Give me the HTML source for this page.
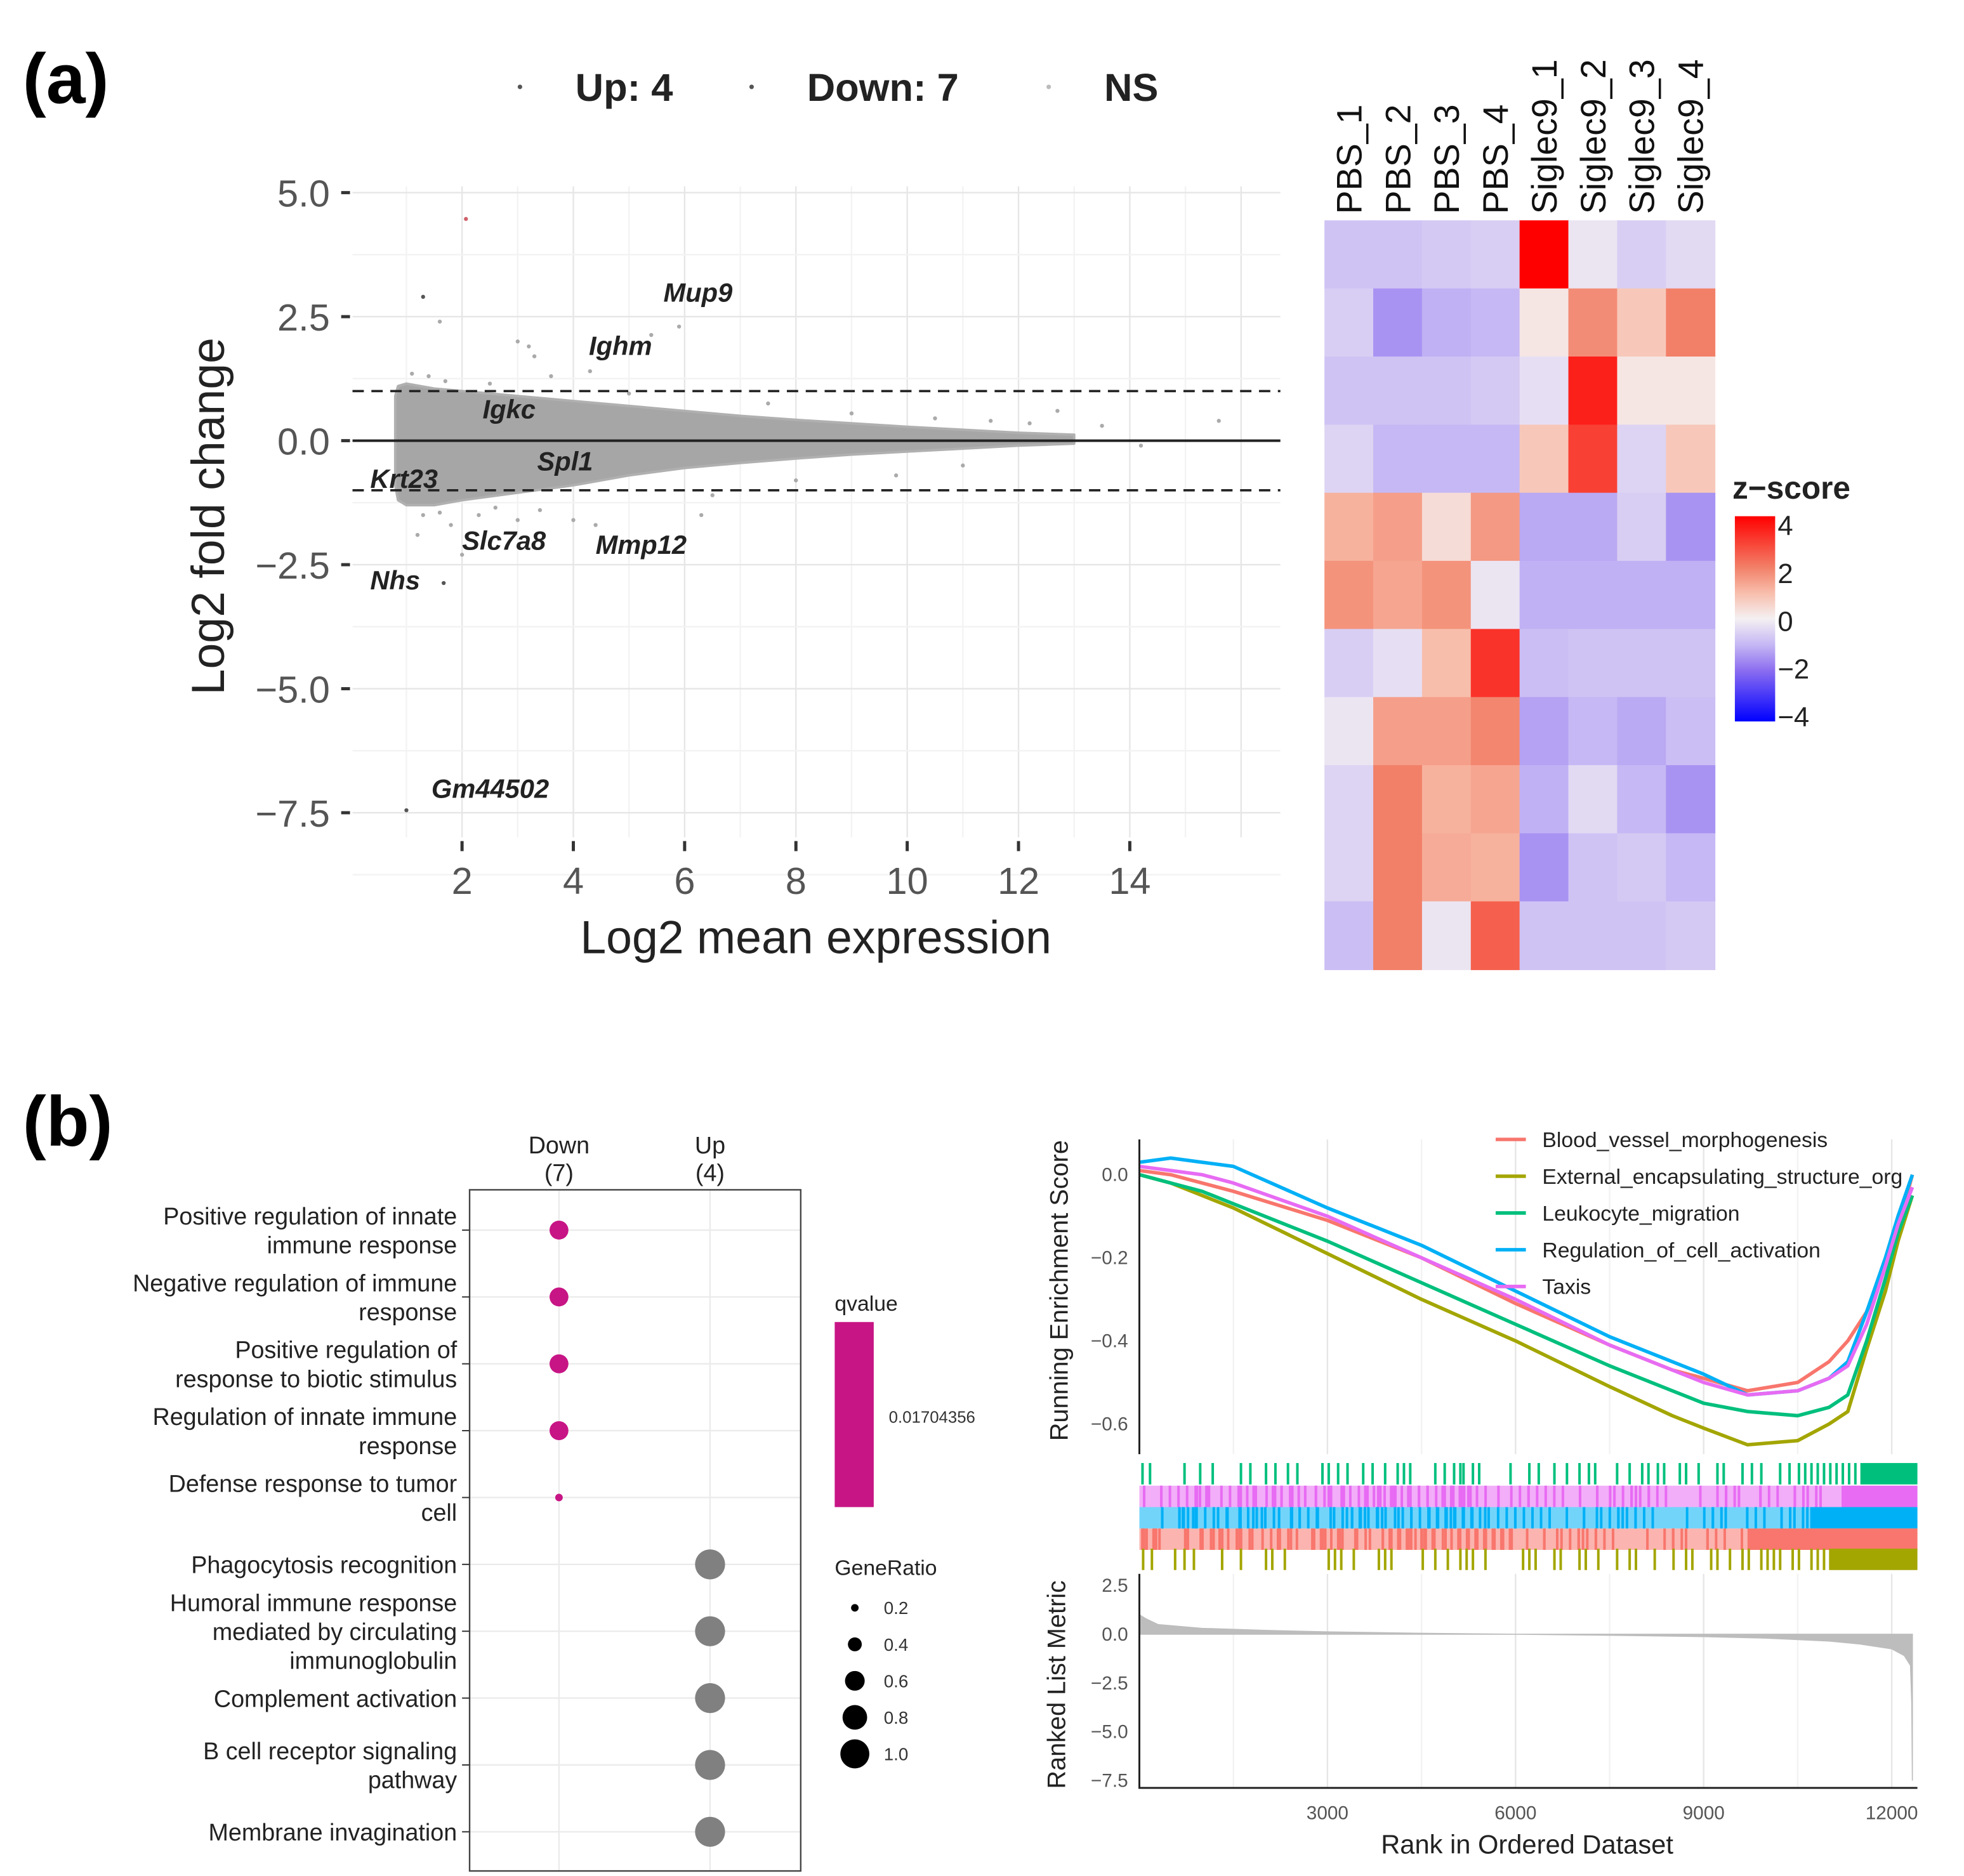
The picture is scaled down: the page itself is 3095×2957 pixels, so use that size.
<!DOCTYPE html>
<html><head><meta charset="utf-8">
<style>
html,body{margin:0;padding:0;background:#fff;}
svg{display:block;}
text{font-family:"Liberation Sans",sans-serif;}
</style></head>
<body>
<svg id="fig" width="3095" height="2957" viewBox="0 0 1560 1490" preserveAspectRatio="none" xmlns="http://www.w3.org/2000/svg">
<rect width="1560" height="1490" fill="#fff"/>
<g id="ma"></g>
<g id="hm"></g>
<g id="dot"></g>
<g id="gsea"></g>
</svg>
<script>
// ---------- MA plot data ----------
const maCloudX = [0.8, 0.85, 1.0, 1.5, 2, 3, 4, 5, 6, 7, 8, 9, 10, 11, 12, 13];
const maCloudUpper = [0.9, 1.1, 1.15, 1.05, 1.0, 0.9, 0.8, 0.7, 0.6, 0.5, 0.42, 0.35, 0.28, 0.22, 0.16, 0.12];
const maCloudLower = [-0.9, -1.2, -1.3, -1.3, -1.2, -1.05, -0.9, -0.7, -0.55, -0.45, -0.36, -0.28, -0.22, -0.16, -0.1, -0.06];
const maOutX = [1.3, 1.6, 2.07, 3.0, 3.2, 3.3, 3.6, 4.3, 5.4, 5.9, 4.0, 1.8, 2.3, 3.4, 4.4, 6.3, 9.8, 13.5, 14.2, 15.6, 1.0, 1.67, 12.7, 8.0, 2.0, 1.2, 1.1, 1.4, 1.7, 2.5, 5.0, 7.5, 9.0, 10.5, 11.5, 12.2, 1.3, 1.6, 2.6, 3.0, 6.5, 11.0];
const maOutY = [2.9, 2.4, 4.47, 2.0, 1.9, 1.7, 1.3, 1.4, 2.13, 2.3, -1.6, -1.7, -1.5, -1.4, -1.7, -1.5, -0.7, 0.3, -0.1, 0.4, -7.45, -2.87, 0.6, -0.8, -2.3, -1.9, 1.35, 1.3, 1.2, 1.15, 0.95, 0.75, 0.55, 0.45, 0.4, 0.35, -1.5, -1.45, -1.35, -1.6, -1.1, -0.5];
const maLabels = ["Mup9", "Ighm", "Igkc", "Spl1", "Krt23", "Slc7a8", "Mmp12", "Nhs", "Gm44502"];
const maLabelX = [5.62, 4.28, 2.37, 3.35, 0.35, 2.0, 4.4, 0.35, 1.45];
const maLabelY = [2.8, 1.73, 0.45, -0.6, -0.95, -2.2, -2.28, -3.0, -7.2];
const maXTicks = [2, 4, 6, 8, 10, 12, 14];
const maYTicks = [5.0, 2.5, 0.0, -2.5, -5.0, -7.5];

// ---------- Heatmap data ----------
const hmCols = ["PBS_1","PBS_2","PBS_3","PBS_4","Siglec9_1","Siglec9_2","Siglec9_3","Siglec9_4"];
const hmRow1 = [-0.8,-0.8,-0.7,-0.6,4.0,-0.2,-0.6,-0.4];
const hmRow2 = [-0.6,-1.5,-1.1,-1.0,0.2,1.8,0.8,2.0];
const hmRow3 = [-0.8,-0.8,-0.8,-0.7,-0.3,3.5,0.2,0.2];
const hmRow4 = [-0.5,-1.0,-1.0,-1.0,0.8,3.0,-0.5,0.8];
const hmRow5 = [1.2,1.5,0.4,1.6,-1.2,-1.2,-0.6,-1.5];
const hmRow6 = [1.7,1.4,1.7,-0.2,-1.1,-1.1,-1.1,-1.1];
const hmRow7 = [-0.6,-0.3,1.0,3.2,-0.9,-0.8,-0.8,-0.8];
const hmRow8 = [-0.2,1.5,1.5,1.9,-1.3,-1.0,-1.2,-0.9];
const hmRow9 = [-0.5,2.0,1.2,1.4,-1.1,-0.4,-1.0,-1.5];
const hmRow10 = [-0.5,2.0,1.3,1.2,-1.5,-0.8,-0.7,-1.0];
const hmRow11 = [-0.9,2.0,-0.2,2.5,-0.8,-0.8,-0.8,-0.7];
const hmLegendTicks = [4, 2, 0, -2, -4];

// ---------- Dot plot data ----------
const goTerms = [["Positive regulation of innate","immune response"],["Negative regulation of immune","response"],["Positive regulation of","response to biotic stimulus"],["Regulation of innate immune","response"],["Defense response to tumor","cell"],["Phagocytosis recognition"],["Humoral immune response","mediated by circulating","immunoglobulin"],["Complement activation"],["B cell receptor signaling","pathway"],["Membrane invagination"]];
const goGroup = ["Down","Down","Down","Down","Down","Up","Up","Up","Up","Up"];
const goGeneRatio = [0.57,0.57,0.57,0.57,0.14,1.05,1.05,1.05,1.05,1.05];
const goGroups = ["Down","Up"];
const goGroupCounts = ["(7)","(4)"];
const goSizeTicks = [0.2,0.4,0.6,0.8,1.0];

// ---------- GSEA data ----------
const gseaNames = ["Blood_vessel_morphogenesis","External_encapsulating_structure_org","Leukocyte_migration","Regulation_of_cell_activation","Taxis"];
const gseaColors = ["#F8766D","#A3A500","#00BF7D","#00B0F6","#E76BF3"];
const esRank = [0,500,1000,1500,3000,4500,6000,7500,8500,9000,9700,10500,11000,11300,11600,11900,12100,12330];
const esBlood = [0.01,0.0,-0.02,-0.04,-0.11,-0.2,-0.31,-0.41,-0.47,-0.49,-0.52,-0.5,-0.45,-0.4,-0.33,-0.22,-0.13,0.0];
const esExternal = [0.0,-0.02,-0.05,-0.08,-0.19,-0.3,-0.4,-0.51,-0.58,-0.61,-0.65,-0.64,-0.6,-0.57,-0.42,-0.28,-0.16,-0.05];
const esLeuko = [0.0,-0.02,-0.04,-0.07,-0.16,-0.26,-0.36,-0.46,-0.52,-0.55,-0.57,-0.58,-0.56,-0.53,-0.4,-0.25,-0.14,-0.05];
const esReg = [0.03,0.04,0.03,0.02,-0.08,-0.17,-0.28,-0.39,-0.45,-0.48,-0.53,-0.52,-0.49,-0.45,-0.33,-0.2,-0.1,0.0];
const esTaxis = [0.02,0.01,0.0,-0.02,-0.1,-0.2,-0.3,-0.41,-0.47,-0.5,-0.53,-0.52,-0.49,-0.46,-0.36,-0.22,-0.12,-0.03];
const esYTicks = [0.0,-0.2,-0.4,-0.6];
const rankXTicks = [3000,6000,9000,12000];
const hitsLeuko = [30,150,700,950,1150,1600,1750,2000,2150,2350,2500,2900,3000,3150,3300,3550,3700,3900,4100,4200,4300,4700,4850,5000,5100,5150,5300,5400,5900,6200,6350,6600,6800,7000,7150,7250,7600,7800,8000,8100,8250,8350,8600,8700,8900,9200,9300,9600,9750,9900,10200,10350,10500,10600,10700,10800,10900,11000,11100,11200,11300,11400];
const hitsExternal = [40,180,550,700,850,1300,1600,2000,2100,2300,3000,3100,3200,3400,3800,3900,4000,4500,4700,4900,5100,5200,5300,5500,6100,6200,6300,6600,6700,7000,7100,7300,7600,7800,7900,8200,8500,8700,8800,9100,9200,9400,9600,9700,9900,10000,10100,10200,10400,10500,10700,10800,10900];
const denseFrom = [9700,11000,11500,10700,11200];
const metricRank = [0,100,300,1000,2000,3000,4500,6000,7500,9000,10000,11000,11500,12000,12200,12300,12320,12330];
const metricVal = [1.0,0.8,0.5,0.3,0.2,0.12,0.05,0.0,-0.05,-0.12,-0.2,-0.35,-0.5,-0.75,-1.1,-1.6,-3.5,-7.5];
const metricYTicks = [2.5,0.0,-2.5,-5.0,-7.5];

const NS = "http://www.w3.org/2000/svg";
function mk(parent, tag, attrs, txt){
  const e = document.createElementNS(NS, tag);
  for (const k in attrs) e.setAttribute(k, attrs[k]);
  if (txt !== undefined) e.textContent = txt;
  parent.appendChild(e);
  return e;
}
const fig = document.getElementById('fig');

let pa = mk(fig,'text',{x:18,y:82,'font-size':56,'font-weight':'bold'},'(a)');


let pb = mk(fig,'text',{x:18,y:910,'font-size':56,'font-weight':'bold'},'(b)');



// ================= MA plot =================
(function(){
  const g = document.getElementById('ma');
  const X = v => 278.6 + 44.2*v;
  const Y = v => 350 - 39.4*v;
  const L=280,R=1017,T=148,B=665;
  for (let v=1; v<=16; v++){
    const ln = mk(g,'line',{x1:X(v),x2:X(v),y1:T,y2:B,stroke: v%2? '#f3f3f3':'#e6e6e6','stroke-width':1.2});
    
    
  }
  for (let v=-8.75; v<=5.1; v+=1.25){
    const ln = mk(g,'line',{x1:L,x2:R,y1:Y(v),y2:Y(v),stroke: (Math.round(v/1.25)%2)? '#f3f3f3':'#e6e6e6','stroke-width':1.2});
    
    
  }
  let pts = [];
  for (let i=0;i<maCloudX.length;i++) pts.push(X(maCloudX[i])+','+Y(maCloudUpper[i]));
  for (let i=maCloudX.length-1;i>=0;i--) pts.push(X(maCloudX[i])+','+Y(maCloudLower[i]));
  const cloud = mk(g,'polygon',{points:pts.join(' '),fill:'#a6a6a6',stroke:'#b0b0b0','stroke-width':2,'stroke-linejoin':'round'});
  
  
  for (let i=0;i<maOutX.length;i++){
    const col = maOutY[i] > 4 ? '#d0606a' : (Math.abs(maOutY[i])>2.5 ? '#555' : '#aaa');
    const c = mk(g,'circle',{cx:X(maOutX[i]),cy:Y(maOutY[i]),r:1.6,fill:col});
    
    
  }
  const zl = mk(g,'line',{x1:L,x2:R,y1:Y(0),y2:Y(0),stroke:'#222','stroke-width':2});
  
  
  [1,-1].forEach(v=>{
    const d = mk(g,'line',{x1:L,x2:R,y1:Y(v),y2:Y(v),stroke:'#222','stroke-width':1.8,'stroke-dasharray':'9,6'});
    
    
  });
  for (let i=0;i<maLabels.length;i++){
    const t = mk(g,'text',{x:X(maLabelX[i]),y:Y(maLabelY[i]),'font-size':21,'font-weight':'bold','font-style':'italic',fill:'#222'},maLabels[i]);
    
    
  }
  maYTicks.forEach(v=>{
    const t = mk(g,'text',{x:262,y:Y(v)+11,'font-size':30,'text-anchor':'end',fill:'#555'},(v<0?'\u2212':'')+Math.abs(v).toFixed(1));
    
    
    const tk = mk(g,'line',{x1:271,x2:278,y1:Y(v),y2:Y(v),stroke:'#333','stroke-width':2.5});
    
    
  });
  maXTicks.forEach(v=>{
    const t = mk(g,'text',{x:X(v),y:710,'font-size':30,'text-anchor':'middle',fill:'#555'},String(v));
    
    
    const tk = mk(g,'line',{x1:X(v),x2:X(v),y1:668,y2:676,stroke:'#333','stroke-width':2.5});
    
    
  });
  const xt = mk(g,'text',{x:648,y:757,'font-size':37,'text-anchor':'middle',fill:'#222'},'Log2 mean expression');
  
  
  const yt = mk(g,'text',{x:0,y:0,'font-size':37,'text-anchor':'middle',fill:'#222',transform:'translate(178,410) rotate(-90)'},'Log2 fold change');
  
  
  const legX = [413,597,833], legT = ['Up: 4','Down: 7','NS'], legC=['#555','#555','#bbb'];
  for (let i=0;i<3;i++){
    const c = mk(g,'circle',{cx:legX[i],cy:69,r:1.8,fill:legC[i]});
    
    
    const t = mk(g,'text',{x:legX[i]+44,y:80,'font-size':31,'font-weight':'bold',fill:'#222'},legT[i]);
    
    
  }
})();

// ================= Heatmap =================
(function(){
  const g = document.getElementById('hm');
  const rows = [hmRow1,hmRow2,hmRow3,hmRow4,hmRow5,hmRow6,hmRow7,hmRow8,hmRow9,hmRow10,hmRow11];
  const L=1052,T=175,W=310,H=595;
  const cw=W/8, rh=H/rows.length;
  const stops=[[-4,[0,0,255]],[-2,[140,110,240]],[-1,[198,184,244]],[0,[244,240,242]],[1,[248,190,172]],[2,[242,128,104]],[4,[255,0,0]]];
  function col(v){
    v=Math.max(-4,Math.min(4,v));
    for(let i=0;i<stops.length-1;i++){
      const [a,ca]=stops[i],[b,cb]=stops[i+1];
      if(v>=a&&v<=b){const t=(v-a)/(b-a);return 'rgb('+ca.map((c,k)=>Math.round(c+(cb[k]-c)*t)).join(',')+')';}
    }
    return '#fff';
  }
  rows.forEach((row,r)=>row.forEach((v,c)=>{
    const e = mk(g,'rect',{x:L+c*cw,y:T+r*rh,width:cw+0.5,height:rh+0.5,fill:col(v)});
    
    
  }));
  hmCols.forEach((n,c)=>{
    const t = mk(g,'text',{x:0,y:0,'font-size':28,fill:'#111',transform:'translate('+(L+c*cw+cw/2+10)+',170) rotate(-90)'},n);
    
    
  });
  const lt = mk(g,'text',{x:1376,y:396,'font-size':25,'font-weight':'bold',fill:'#222'},'z\u2212score');
  
  
  const defs = mk(g,'defs',{});
  const gr = mk(defs,'linearGradient',{id:'zg',x1:0,y1:0,x2:0,y2:1});
  [[0,4],[0.25,2],[0.375,1],[0.5,0],[0.625,-1],[0.75,-2],[1,-4]].forEach(s=>mk(gr,'stop',{offset:s[0],'stop-color':col(s[1])}));
  const cb = mk(g,'rect',{x:1378,y:410,width:32,height:163,fill:'url(#zg)'});
  
  
  const cbY = v => 493 - 19*v;
  hmLegendTicks.forEach(v=>{
    const t = mk(g,'text',{x:1412,y:cbY(v)+8,'font-size':22,fill:'#222'},(v<0?'\u2212':'')+Math.abs(v));
    
    
  });
})();

// ================= Dot plot =================
(function(){
  const g = document.getElementById('dot');
  const L=373,R=636,T=945,B=1486;
  const colX = {Down:444, Up:564};
  const rowY = i => 977 + i*53.1;
  const rOf = gr => Math.max(3, 16.3*Math.sqrt(gr) - 4.8);
  [444,564].forEach(x=>{ const l=mk(g,'line',{x1:x,x2:x,y1:T,y2:B,stroke:'#ebebeb','stroke-width':1.2});  });
  goTerms.forEach((t,i)=>{
    const l = mk(g,'line',{x1:L,x2:R,y1:rowY(i),y2:rowY(i),stroke:'#ebebeb','stroke-width':1.2});
    
    
  });
  const box = mk(g,'rect',{x:L,y:T,width:R-L,height:B-T,fill:'none',stroke:'#444','stroke-width':1.2});
  
  
  goTerms.forEach((lines,i)=>{
    const y0 = rowY(i) - (lines.length-1)*11.5 + 7;
    lines.forEach((s,k)=>{
      const t = mk(g,'text',{x:363,y:y0+k*23,'font-size':19,'text-anchor':'end',fill:'#222'},s);
      
      
    });
    const tk = mk(g,'line',{x1:367,x2:373,y1:rowY(i),y2:rowY(i),stroke:'#333','stroke-width':1});
    
    
    const c = mk(g,'circle',{cx:colX[goGroup[i]],cy:rowY(i),r:rOf(goGeneRatio[i]),fill:goGroup[i]==='Down'?'#C71585':'#808080'});
    
    
  });
  goGroups.forEach((n,i)=>{
    const x = colX[n];
    const t1 = mk(g,'text',{x:x,y:916,'font-size':19,'text-anchor':'middle',fill:'#222'},n);
    
    
    const t2 = mk(g,'text',{x:x,y:938,'font-size':19,'text-anchor':'middle',fill:'#222'},goGroupCounts[i]);
    
    
  });
  const qt = mk(g,'text',{x:663,y:1041,'font-size':17,fill:'#222'},'qvalue');
  
  
  const qb = mk(g,'rect',{x:663,y:1050,width:31,height:147,fill:'#C71585'});
  
  
  const qv = mk(g,'text',{x:706,y:1130,'font-size':13,fill:'#333'},'0.01704356');
  
  
  const gt = mk(g,'text',{x:663,y:1251,'font-size':17,fill:'#222'},'GeneRatio');
  
  
  goSizeTicks.forEach((v,i)=>{
    const y = 1277 + i*29;
    const c = mk(g,'circle',{cx:679,cy:y,r:Math.max(2.5,rOf(v)),fill:'#000'});
    
    
    const t = mk(g,'text',{x:702,y:y+5,'font-size':14,fill:'#333'},v.toFixed(1));
    
    
  });
})();

// ================= GSEA =================
(function(){
  const g = document.getElementById('gsea');
  const X = r => 905 + 0.0498*r;
  const Yt = v => 933 - 330*v;
  const Yb = v => 1298 - 15.5*v;
  const L=905,R=1523;
  for (let r=1500;r<=12000;r+=1500){
    [[905,1155],[1250,1420]].forEach(s=>{
      const l = mk(g,'line',{x1:X(r),x2:X(r),y1:s[0],y2:s[1],stroke: r%3000? '#f2f2f2':'#e6e6e6','stroke-width':1.2});
      
      
    });
  }
  const series = [esBlood,esExternal,esLeuko,esReg,esTaxis];
  series.forEach((s,k)=>{
    const d = s.map((v,i)=>(i?'L':'M')+X(esRank[i]).toFixed(1)+','+Yt(v).toFixed(1)).join(' ');
    const p = mk(g,'path',{d:d,fill:'none',stroke:gseaColors[k],'stroke-width':2.8,'stroke-linejoin':'round'});
    
    
  });
  const ax1 = mk(g,'line',{x1:L,x2:L,y1:905,y2:1155,stroke:'#222','stroke-width':1.5});
  
  
  esYTicks.forEach(v=>{
    const t = mk(g,'text',{x:896,y:Yt(v)+5,'font-size':15,'text-anchor':'end',fill:'#555'},(v<0?'\u2212':'')+Math.abs(v).toFixed(1));
    
    
  });
  const yl1 = mk(g,'text',{x:0,y:0,'font-size':20,'text-anchor':'middle',fill:'#222',transform:'translate(848,1025) rotate(-90)'},'Running Enrichment Score');
  
  
  const clip = mk(g,'rect',{x:820,y:1153,width:84,height:30,fill:'#fff'});
  
  
  gseaNames.forEach((n,k)=>{
    const y = 905 + k*29.2;
    const l = mk(g,'line',{x1:1188,x2:1212,y1:y,y2:y,stroke:gseaColors[k],'stroke-width':2.8});
    
    
    const t = mk(g,'text',{x:1225,y:y+6,'font-size':17,fill:'#222'},n);
    
    
  });
  const rowOrder = [2,4,3,0,1];
  const rowTop = [1162,1180,1197,1214,1230], rowH = 17;
  const hitsFor = {2:hitsLeuko, 1:hitsExternal};
  rowOrder.forEach((k,ri)=>{
    const y = rowTop[ri];
    if (k===4 || k===3 || k===0){
      const bg = mk(g,'rect',{x:L,y:y,width:R-L,height:rowH,fill:gseaColors[k],opacity:0.55});
      
      
      const hits = hitsLeuko.concat(hitsExternal).map(h=>(h*1.37+k*211)%denseFrom[k]);
      hits.forEach(h=>{
        const b = mk(g,'rect',{x:X(h),y:y,width:2,height:rowH,fill:gseaColors[k]});
        
        
      });
    } else {
      hitsFor[k].forEach(h=>{
        const b = mk(g,'rect',{x:X(h),y:y,width:2,height:rowH,fill:gseaColors[k]});
        
        
      });
    }
    const d = mk(g,'rect',{x:X(denseFrom[k]),y:y,width:R-X(denseFrom[k]),height:rowH,fill:gseaColors[k]});
    
    
  });
  let pts = [X(0)+','+Yb(0)];
  metricRank.forEach((r,i)=>pts.push(X(r).toFixed(1)+','+Yb(metricVal[i]).toFixed(1)));
  pts.push(X(metricRank[metricRank.length-1])+','+Yb(0));
  const area = mk(g,'polygon',{points:pts.join(' '),fill:'#bdbdbd',stroke:'#bdbdbd','stroke-width':0.8});
  
  
  const ax2 = mk(g,'polyline',{points:L+',1250 '+L+',1420 '+R+',1420',fill:'none',stroke:'#222','stroke-width':1.5});
  
  
  metricYTicks.forEach(v=>{
    const t = mk(g,'text',{x:896,y:Yb(v)+5,'font-size':15,'text-anchor':'end',fill:'#555'},(v<0?'\u2212':'')+Math.abs(v).toFixed(1));
    
    
  });
  rankXTicks.forEach(r=>{
    const t = mk(g,'text',{x:X(r),y:1445,'font-size':15,'text-anchor':'middle',fill:'#555'},String(r));
    
    
  });
  const yl2 = mk(g,'text',{x:0,y:0,'font-size':20,'text-anchor':'middle',fill:'#222',transform:'translate(846,1338) rotate(-90)'},'Ranked List Metric');
  
  
  const xl = mk(g,'text',{x:1213,y:1472,'font-size':21,'text-anchor':'middle',fill:'#222'},'Rank in Ordered Dataset');
  
  
})();
</script>
</body></html>
